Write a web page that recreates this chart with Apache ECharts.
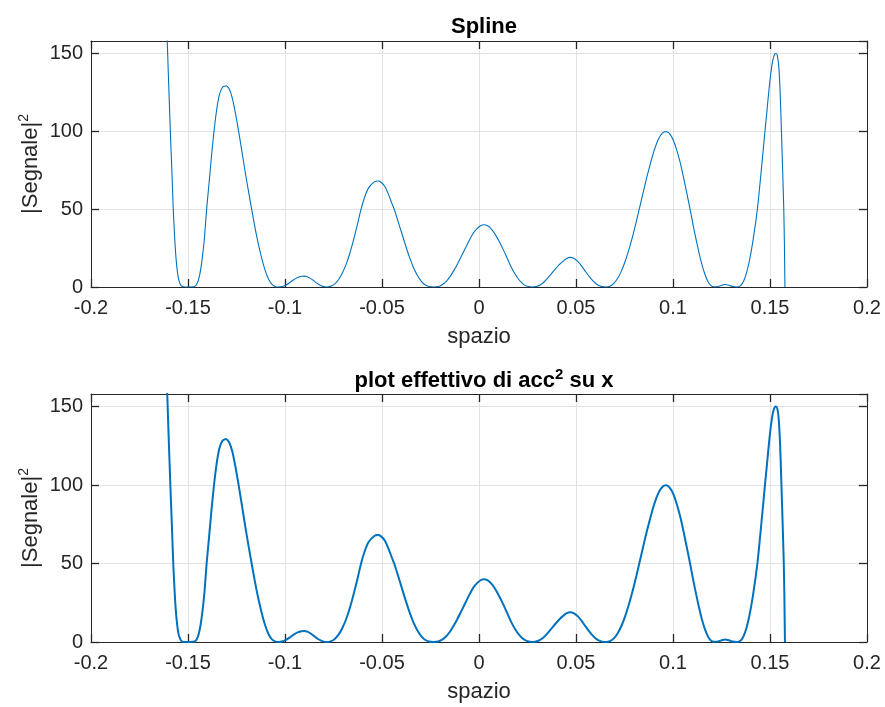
<!DOCTYPE html>
<html>
<head>
<meta charset="utf-8">
<script src="https://cdn.jsdelivr.net/npm/echarts@6/dist/echarts.min.js"></script>
<style>
html,body{margin:0;padding:0;background:#fff;}
#chart{width:885px;height:707px;}
</style>
</head>
<body>
<div id="chart"></div>
<script>
// ---- data ----
const spazio = [
  -0.1630,-0.1620,-0.1612,-0.1607,-0.1600,-0.1591,-0.1583,-0.1576,-0.1568,-0.1560,
  -0.1550,-0.1540,-0.1530,-0.1515,-0.1495,-0.1475,-0.1465,-0.1455,-0.1445,-0.1435,
  -0.1425,-0.1415,-0.1404,-0.1392,-0.1379,-0.1366,-0.1352,-0.1338,-0.1322,-0.1304,
  -0.1288,-0.1272,-0.1256,-0.1239,-0.1222,-0.1206,-0.1189,-0.1172,-0.1155,-0.1138,
  -0.1120,-0.1102,-0.1084,-0.1066,-0.1048,-0.1034,-0.1015,-0.0995,-0.0975,-0.0955,
  -0.0935,-0.0915,-0.0900,-0.0885,-0.0865,-0.0845,-0.0825,-0.0805,-0.0785,-0.0765,
  -0.0745,-0.0725,-0.0705,-0.0685,-0.0665,-0.0645,-0.0625,-0.0608,-0.0590,-0.0570,
  -0.0540,-0.0522,-0.0505,-0.0485,-0.0465,-0.0450,-0.0437,-0.0418,-0.0398,-0.0378,
  -0.0358,-0.0338,-0.0318,-0.0298,-0.0278,-0.0258,-0.0235,-0.0210,-0.0190,-0.0170,
  -0.0150,-0.0130,-0.0110,-0.0090,-0.0070,-0.0050,-0.0030,-0.0010,0.0010,0.0025,
  0.0045,0.0065,0.0085,0.0105,0.0125,0.0145,0.0165,0.0185,0.0205,0.0225,
  0.0245,0.0277,0.0295,0.0315,0.0335,0.0355,0.0375,0.0395,0.0415,0.0435,
  0.0450,0.0469,0.0490,0.0510,0.0530,0.0550,0.0570,0.0590,0.0610,0.0630,
  0.0655,0.0675,0.0695,0.0715,0.0735,0.0755,0.0775,0.0795,0.0812,0.0826,
  0.0845,0.0865,0.0885,0.0905,0.0925,0.0945,0.0964,0.0980,0.0995,0.1010,
  0.1025,0.1040,0.1055,0.1070,0.1088,0.1105,0.1120,0.1135,0.1150,0.1165,
  0.1180,0.1195,0.1210,0.1228,0.1248,0.1268,0.1288,0.1308,0.1325,0.1337,
  0.1350,0.1365,0.1380,0.1395,0.1410,0.1425,0.1435,0.1445,0.1455,0.1465,
  0.1474,0.1485,0.1495,0.1505,0.1515,0.1524,0.1531,0.1538,0.1545,0.1552,
  0.1559,0.1565,0.1571,0.1574,0.1577
];
const segnale = [
  235,205,178,158,132,100,74,50,30,16,
  6,1.8,0.3,0,0,0.1,0.4,1.8,5,11,
  20,32,50,66,84,100,114,123.5,128.3,129.3,
  127.3,121.5,112,100,87,74.5,62,50,38.5,28,
  18.5,10.5,4.8,1.5,0.2,0,0.3,1.3,2.9,4.7,
  6.1,6.9,7.0,6.6,5.2,3.3,1.6,0.4,0,0.4,
  1.8,4.5,8.8,14.5,22,31,41,50,57.5,63.5,
  67.5,68.1,67.3,64.5,59,54,50,42.5,34.5,26.5,
  19,12.5,7.5,3.8,1.4,0.3,0,0.3,1.5,3.5,
  6.5,10.5,15,20,25,30,34.5,37.5,39.5,40,
  39.3,37,33.5,29,24,18.5,13,8.5,4.8,2.2,
  0.7,0,0.3,1.3,3.2,5.8,8.8,11.8,14.5,16.8,
  18.2,19,18.3,16.3,13.3,9.8,6.5,3.6,1.5,0.4,
  0,0.5,2.3,5.6,10.5,17,25,34,42.5,50,
  60,70.5,80,88.5,95,98.8,99.8,98.8,96,91.5,
  85.5,78.5,70,61,50,39,30,21.5,14,8,
  3.6,1.0,0.1,0.2,1.0,1.6,1.1,0.3,0,0.1,
  1.0,4,9.5,17.5,28,40.5,50,62,75,88,
  100,114,127,138,146,149.5,150,148.5,142,126,
  100,76,50,30,0
];
const xTicks = [-0.2,-0.15,-0.1,-0.05,0,0.05,0.1,0.15,0.2];
const xTickLabels = ['-0.2','-0.15','-0.1','-0.05','0','0.05','0.1','0.15','0.2'];
const yTicks = [0,50,100,150];
const yTickLabels = ['0','50','100','150'];
const titles = ['Spline','plot effettivo di acc{sup|2} su x'];
const xName = 'spazio';
const yName = '|Segnale|{sup|2}';

// ---- chart ----
const FONT = 'Liberation Sans, Arial, Helvetica, sans-serif';
const AX = '#262626';
const GRIDC = '#e3e3e3';
const grids = [
  {left: 91, width: 776, top: 41, height: 246},
  {left: 91, width: 776, top: 394, height: 248}
];
const lineWidths = [1.1, 2];
const titleTops = [8, 362];
const pts = spazio.map((x, i) => [x, segnale[i]]);

function xLabel(v) {
  for (let i = 0; i < xTicks.length; i++) if (Math.abs(xTicks[i] - v) < 1e-9) return xTickLabels[i];
  return '';
}
function yLabel(v) {
  for (let i = 0; i < yTicks.length; i++) if (Math.abs(yTicks[i] - v) < 1e-9) return yTickLabels[i];
  return '';
}
const richSup = {
  sup: {fontSize: 14, lineHeight: 14, verticalAlign: 'top', fontFamily: FONT}
};

const xAxes = [], yAxes = [], series = [], title = [];
grids.forEach((g, gi) => {
  const xStep = xTicks[1] - xTicks[0];
  const yStep = yTicks[1] - yTicks[0];
  const common = {
    gridIndex: gi, type: 'value',
    axisLine: {show: true, onZero: false, lineStyle: {color: AX, width: 1}},
    axisTick: {show: true, inside: true, length: 8, lineStyle: {color: AX, width: 1.3}}
  };
  xAxes.push(Object.assign({}, common, {
    position: 'bottom', min: xTicks[0], max: xTicks[xTicks.length - 1], interval: xStep,
    splitLine: {show: true, lineStyle: {color: GRIDC, width: 1}},
    axisLabel: {show: true, color: AX, fontSize: 20, fontFamily: FONT, margin: 11,
      formatter: xLabel, hideOverlap: false, alignMinLabel: 'center', alignMaxLabel: 'center'},
    name: xName, nameLocation: 'middle', nameGap: 39, nameMoveOverlap: false,
    nameTextStyle: {color: AX, fontSize: 22, fontFamily: FONT}
  }));
  xAxes.push(Object.assign({}, common, {
    position: 'top', min: xTicks[0], max: xTicks[xTicks.length - 1], interval: xStep,
    splitLine: {show: false}, axisLabel: {show: false}
  }));
  yAxes.push(Object.assign({}, common, {
    position: 'left', min: 0, max: 158, interval: yStep,
    splitLine: {show: true, lineStyle: {color: GRIDC, width: 1}},
    axisLabel: {show: true, color: AX, fontSize: 20, fontFamily: FONT, margin: 8,
      formatter: yLabel, showMaxLabel: false, hideOverlap: false},
    name: yName, nameLocation: 'middle', nameGap: 46, nameRotate: 90, nameMoveOverlap: false,
    nameTextStyle: {color: AX, fontSize: 22, fontFamily: FONT, lineHeight: 28, rich: richSup}
  }));
  yAxes.push(Object.assign({}, common, {
    position: 'right', min: 0, max: 158, interval: yStep,
    splitLine: {show: false}, axisLabel: {show: false}
  }));
  series.push({
    type: 'line', xAxisIndex: gi * 2, yAxisIndex: gi * 2, data: pts,
    showSymbol: false, symbol: 'none', smooth: 0.2, clip: true,
    lineStyle: {color: '#0072BD', width: lineWidths[gi]}, animation: false, z: 3
  });
  title.push({
    text: titles[gi], left: g.left + g.width / 2, top: titleTops[gi], textAlign: 'center',
    textStyle: {color: '#000', fontSize: 22, fontWeight: 'bold', fontFamily: FONT, lineHeight: 28,
      rich: {sup: {fontSize: 15, lineHeight: 15, fontWeight: 'bold', verticalAlign: 'top', fontFamily: FONT, color: '#000'}}}
  });
});

const chart = echarts.init(document.getElementById('chart'), null, {renderer: 'canvas'});
chart.setOption({
  backgroundColor: '#ffffff',
  animation: false,
  title: title,
  grid: grids.map(g => Object.assign({outerBoundsMode: 'none', containLabel: false, show: false}, g)),
  xAxis: xAxes,
  yAxis: yAxes,
  series: series
});
</script>
</body>
</html>
